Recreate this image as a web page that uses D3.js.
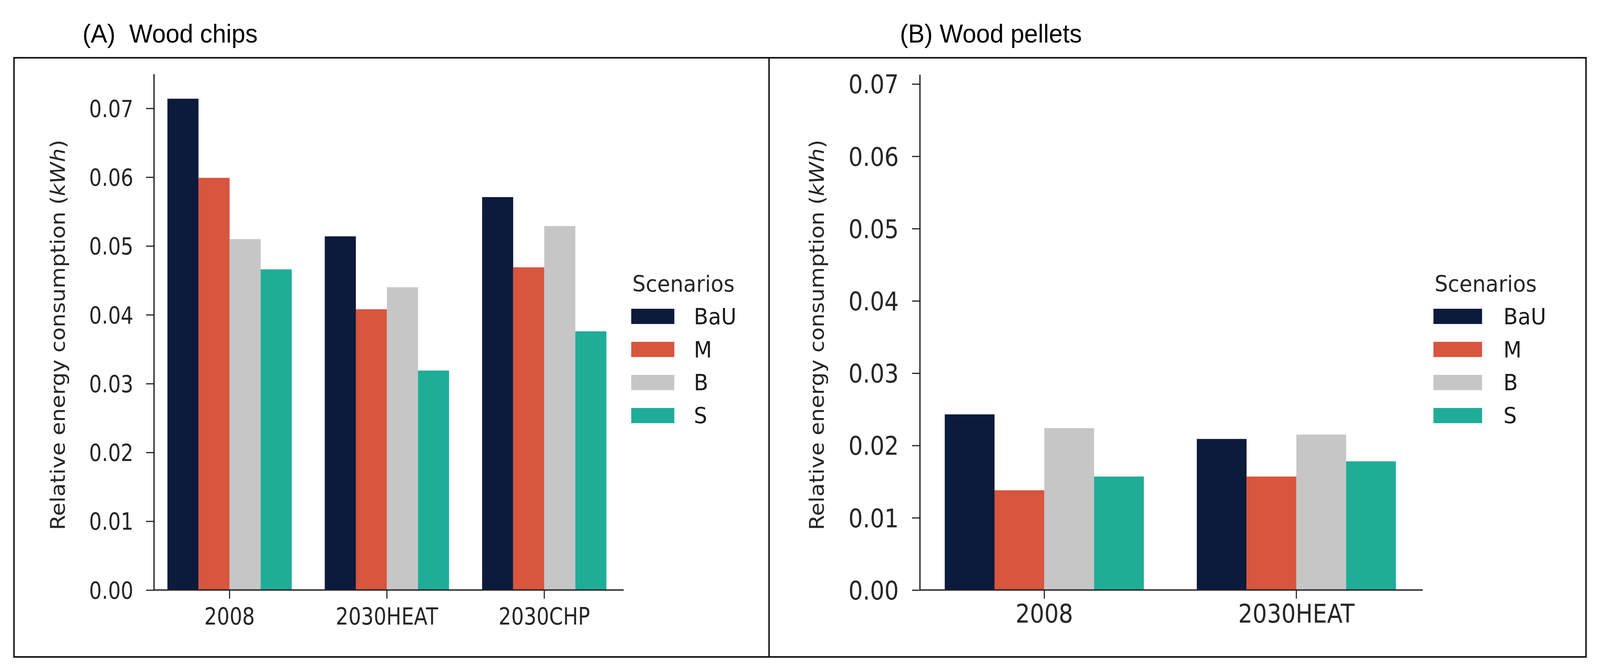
<!DOCTYPE html>
<html>
<head>
<meta charset="utf-8">
<script src="https://cdn.jsdelivr.net/npm/d3@7"></script>
<style>
  html, body { margin: 0; padding: 0; width: 100%; height: 100%; overflow: hidden; background: #fff; }
  #chart { position: fixed; left: 0; top: 0; width: 100vw; height: 100vh; display: block; }
</style>
</head>
<body>
<svg id="chart" viewBox="0 0 4342 1719" preserveAspectRatio="none"></svg>
<script>
// scenarios and their colours
var scenarios = ["BaU", "M", "B", "S"];
var scenarioColors = ["#0c1a3c", "#d8553e", "#c6c6c6", "#1fad98"];

// (A) wood chips
var chipsCats = ["2008", "2030HEAT", "2030CHP"];
var chipsBaU = [0.0714, 0.0514, 0.0571];
var chipsM   = [0.0599, 0.0408, 0.0469];
var chipsB   = [0.0510, 0.0440, 0.0529];
var chipsS   = [0.0466, 0.0319, 0.0376];

// (B) wood pellets
var pelletsCats = ["2008", "2030HEAT"];
var pelletsBaU = [0.0243, 0.0209];
var pelletsM   = [0.0138, 0.0157];
var pelletsB   = [0.0224, 0.0215];
var pelletsS   = [0.0157, 0.0178];

var yTicks = [0, 0.01, 0.02, 0.03, 0.04, 0.05, 0.06, 0.07];

var svg = d3.select("#chart");
var ink = "#222";

// outer frame with divider
svg.append("rect").attr("x", 38).attr("y", 148).attr("width", 4266).attr("height", 1535)
  .attr("fill", "none").attr("stroke", "#111").attr("stroke-width", 4);
svg.append("line").attr("x1", 2087).attr("x2", 2087).attr("y1", 148).attr("y2", 1683)
  .attr("stroke", "#111").attr("stroke-width", 4);

var panels = [
  {title: "(A)  Wood chips", titleX: 224, cats: chipsCats,
   series: [chipsBaU, chipsM, chipsB, chipsS], yMax: 0.075,
   axisX: 417.5, xEnd: 1692.5, band: [409.5, 1690.5], yBase: 1511.6, yTop: 189.4,
   fs: 60, sx: 0.9, tickRight: 362, xLabelY: 1600, ylabelX: 176,
   legX: 1713, swW: 117, labX: 1883},
  {title: "(B) Wood pellets", titleX: 2442, cats: pelletsCats,
   series: [pelletsBaU, pelletsM, pelletsB, pelletsS], yMax: 0.0713,
   axisX: 2496, xEnd: 3861, band: [2492, 3860], yBase: 1511.6, yTop: 191.1,
   fs: 66, sx: 0.93, tickRight: 2439, xLabelY: 1595, ylabelX: 2236,
   legX: 3890, swW: 132, labX: 4080}
];

panels.forEach(function(p) {
  var g = svg.append("g");

  // panel title
  g.append("text")
    .attr("x", p.titleX).attr("y", 109)
    .attr("font-family", "Liberation Sans, Arial, sans-serif")
    .attr("font-size", 67).attr("fill", "#000")
    .style("white-space", "pre")
    .text(p.title);

  var y = d3.scaleLinear().domain([0, p.yMax]).range([p.yBase, p.yTop]);
  var x = d3.scaleBand().domain(p.cats).range(p.band).padding(0);
  var groupW = x.bandwidth() * 0.79;
  var xs = d3.scaleBand().domain(scenarios).range([0, groupW]);
  var color = d3.scaleOrdinal().domain(scenarios).range(scenarioColors);

  // bars
  var rows = [];
  p.series.forEach(function(vals, si) {
    vals.forEach(function(v, ci) {
      rows.push({cat: p.cats[ci], scn: scenarios[si], value: v});
    });
  });
  g.selectAll("rect.bar").data(rows).enter().append("rect")
    .attr("class", "bar")
    .attr("x", function(d) { return x(d.cat) + (x.bandwidth() - groupW) / 2 + xs(d.scn); })
    .attr("width", xs.bandwidth())
    .attr("y", function(d) { return y(d.value); })
    .attr("height", function(d) { return y(0) - y(d.value); })
    .attr("fill", function(d) { return color(d.scn); });

  // y axis
  var gy = g.append("g").attr("transform", "translate(" + p.axisX + ",0)")
    .call(d3.axisLeft(y).tickValues(yTicks).tickFormat(d3.format(".2f"))
      .tickSize(21).tickSizeOuter(0));
  gy.select(".domain").attr("stroke", ink).attr("stroke-width", 3.5);
  gy.selectAll(".tick line").attr("stroke", ink).attr("stroke-width", 3);
  gy.selectAll(".tick text")
    .attr("x", null).attr("dy", "0.36em")
    .attr("transform", "translate(" + (p.tickRight - p.axisX) + ",0) scale(" + p.sx + ",1)")
    .attr("font-family", "DejaVu Sans, sans-serif").attr("font-size", p.fs)
    .attr("fill", "#262626").attr("text-anchor", "end");

  // x axis
  var gx = g.append("g").attr("transform", "translate(0," + p.yBase + ")")
    .call(d3.axisBottom(x).tickSize(22).tickSizeOuter(0));
  gx.select(".domain").remove();
  gx.selectAll(".tick line").attr("stroke", ink).attr("stroke-width", 3);
  gx.selectAll(".tick text")
    .attr("y", null).attr("dy", null)
    .attr("transform", "translate(0," + (p.xLabelY - p.yBase) + ") scale(" + p.sx + ",1)")
    .attr("font-family", "DejaVu Sans, sans-serif").attr("font-size", p.fs)
    .attr("fill", "#262626").attr("text-anchor", "middle");
  g.append("line")
    .attr("x1", p.axisX).attr("x2", p.xEnd).attr("y1", p.yBase).attr("y2", p.yBase)
    .attr("stroke", ink).attr("stroke-width", 3.5);

  // y label
  var yl = g.append("text")
    .attr("transform", "translate(" + p.ylabelX + ",858) rotate(-90)")
    .attr("text-anchor", "middle")
    .attr("font-family", "DejaVu Sans, sans-serif").attr("font-size", 54)
    .attr("fill", "#262626")
    .attr("textLength", 1000).attr("lengthAdjust", "spacingAndGlyphs");
  yl.append("tspan").text("Relative energy consumption (");
  yl.append("tspan").attr("font-style", "italic").text("kWh");
  yl.append("tspan").text(")");

  // legend
  var leg = g.append("g");
  leg.append("text")
    .attr("x", p.legX + 3).attr("y", 747)
    .attr("font-family", "DejaVu Sans, sans-serif").attr("font-size", 57)
    .attr("fill", "#262626").text("Scenarios");
  var item = leg.selectAll("g.item").data(scenarios).enter().append("g")
    .attr("class", "item")
    .attr("transform", function(d, i) { return "translate(0," + (791 + i * 84.7) + ")"; });
  item.append("rect")
    .attr("x", p.legX).attr("y", 0).attr("width", p.swW).attr("height", 39)
    .attr("fill", function(d) { return color(d); });
  item.append("text")
    .attr("x", p.labX).attr("y", 40)
    .attr("font-family", "DejaVu Sans, sans-serif").attr("font-size", 57)
    .attr("fill", "#1a1a1a").text(function(d) { return d; });
});
</script>
</body>
</html>
